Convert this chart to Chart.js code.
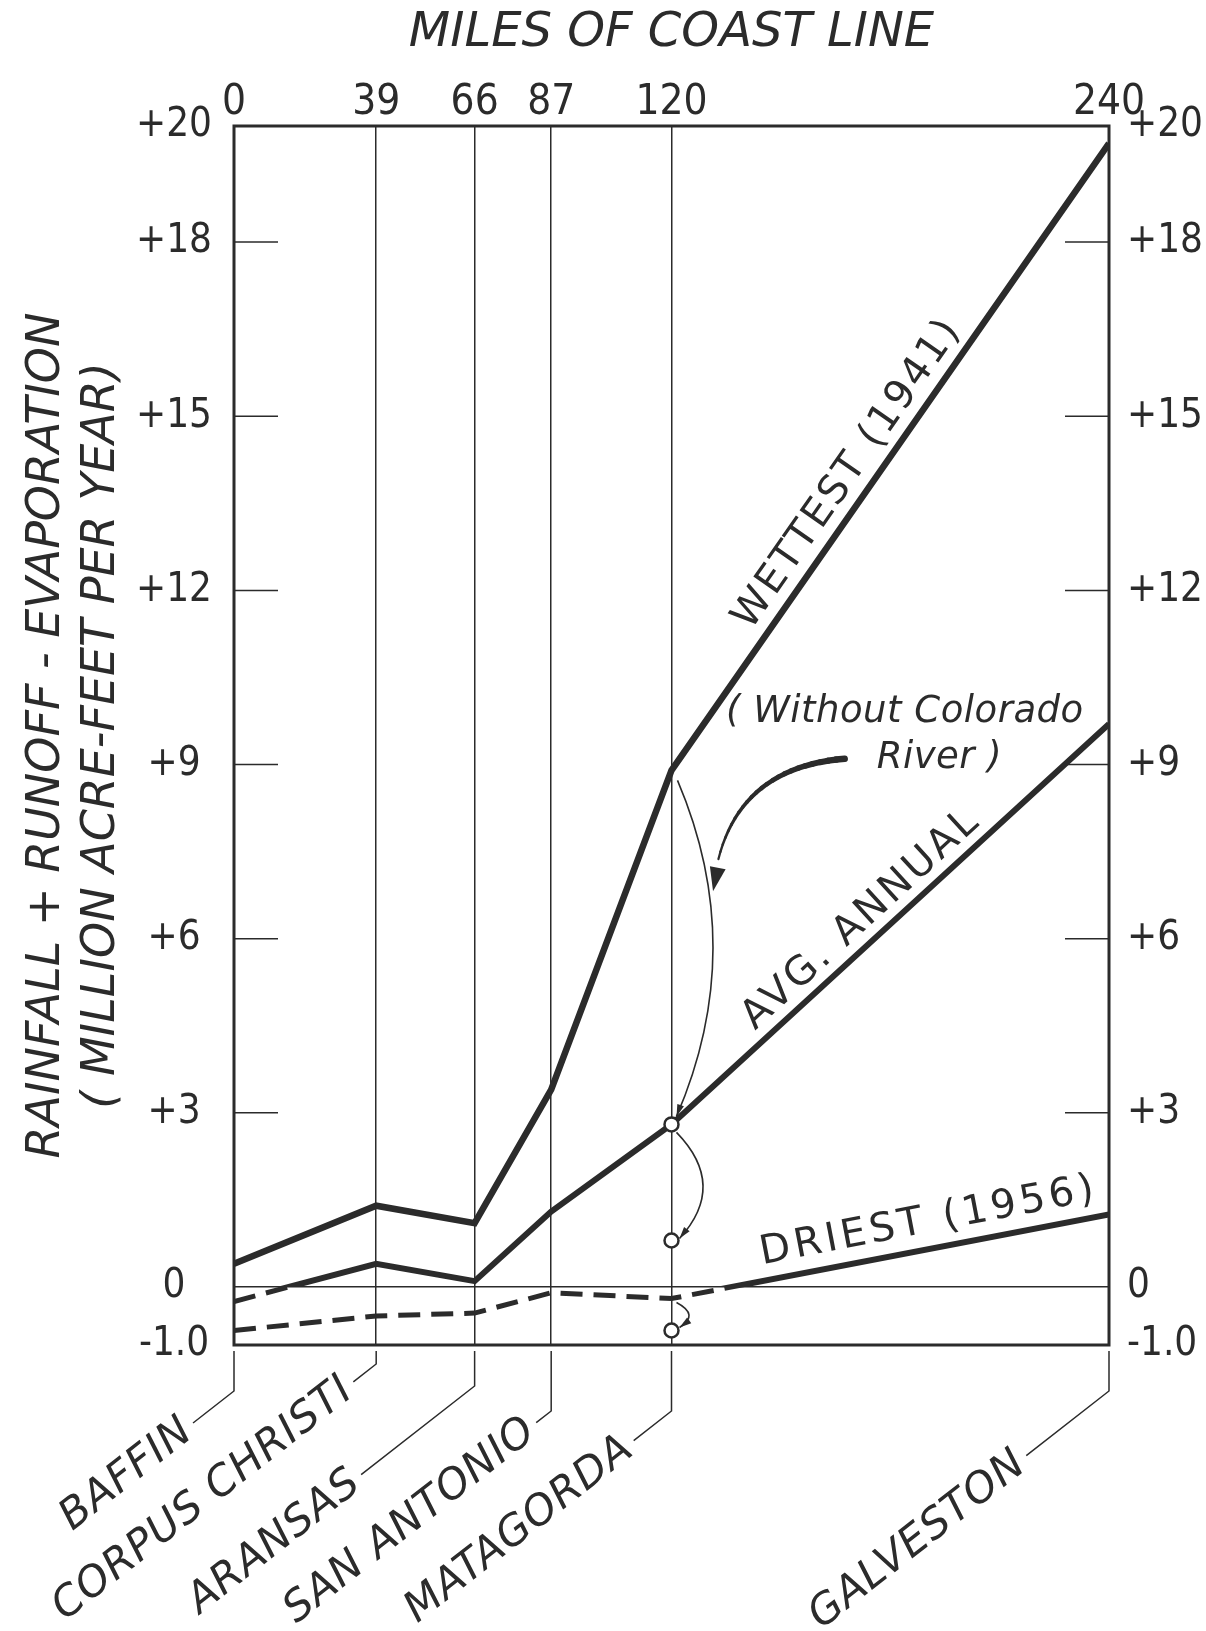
<!DOCTYPE html>
<html>
<head>
<meta charset="utf-8">
<script src="https://cdn.jsdelivr.net/npm/chart.js@4/dist/chart.umd.min.js"></script>
<style>
  body { margin: 0; background: #fff; }
  canvas { display: block; }
</style>
</head>
<body>
<canvas id="chart" width="1206" height="1631"></canvas>
<script>
// miles of coast line, measured from Baffin Bay
const miles = [0, 39, 66, 87, 120, 240];
const stations = ['BAFFIN', 'CORPUS CHRISTI', 'ARANSAS', 'SAN ANTONIO', 'MATAGORDA', 'GALVESTON'];

// rainfall + runoff - evaporation, million acre-feet per year
const wettest = [0.4, 1.4, 1.1, 3.4, 8.9, 19.7];
const avgAnnual = [-0.25, 0.4, 0.1, 1.3, 2.8, 9.7];
const driest = [-0.75, -0.5, -0.45, -0.1, -0.2, 1.25];

// Matagorda values without the Colorado River (wettest, avg, driest)
const noColoradoMile = 120;
const noColorado = [2.8, 0.8, -0.75];

const yTicks = [20, 18, 15, 12, 9, 6, 3, 0, -1];
const yTickLabels = ['+20', '+18', '+15', '+12', '+9', '+6', '+3', '0', '-1.0'];

const INK = '#2b2b2b';
const CLEAR = 'rgba(0,0,0,0)';
const NUM_FONT = "'Liberation Sans Narrow', 'DejaVu Sans Condensed', 'DejaVu Sans', sans-serif";
const TXT_FONT = "'DejaVu Sans', sans-serif";

// leader lines under the plot: length of vertical part, length of slanted part
const leaders = [
  { drop: 40, reach: 52 },
  { drop: 13, reach: 29 },
  { drop: 35, reach: 144 },
  { drop: 60, reach: 19 },
  { drop: 60, reach: 48 },
  { drop: 40, reach: 105 }
];
const LEADER_ANGLE = 38 * Math.PI / 180;

const pts = vals => vals.map((v, i) => ({ x: miles[i], y: v }));

// draw a dataset only above or below the zero line (solid above, dashed below)
const signClip = {
  id: 'signClip',
  beforeDatasetDraw(chart, args) {
    const side = chart.data.datasets[args.index].clipSide;
    if (!side) return;
    const { ctx, chartArea: a } = chart;
    const y0 = chart.scales.y.getPixelForValue(0);
    ctx.save();
    ctx.beginPath();
    if (side === 'above') ctx.rect(a.left - 10, 0, a.width + 20, y0);
    else ctx.rect(a.left - 10, y0, a.width + 20, chart.height - y0);
    ctx.clip();
  },
  afterDatasetDraw(chart, args) {
    if (chart.data.datasets[args.index].clipSide) chart.ctx.restore();
  }
};

function quad(p0, c, p2, t) {
  const u = 1 - t;
  return {
    x: u * u * p0.x + 2 * u * t * c.x + t * t * p2.x,
    y: u * u * p0.y + 2 * u * t * c.y + t * t * p2.y
  };
}

function arrowHead(ctx, tip, from, len, wid) {
  const a = Math.atan2(tip.y - from.y, tip.x - from.x);
  ctx.beginPath();
  ctx.moveTo(tip.x, tip.y);
  ctx.lineTo(tip.x - len * Math.cos(a) + wid / 2 * Math.sin(a), tip.y - len * Math.sin(a) - wid / 2 * Math.cos(a));
  ctx.lineTo(tip.x - len * Math.cos(a) - wid / 2 * Math.sin(a), tip.y - len * Math.sin(a) + wid / 2 * Math.cos(a));
  ctx.closePath();
  ctx.fill();
}

function thinArrow(ctx, p0, p2, bow) {
  const c = { x: (p0.x + p2.x) / 2 + bow, y: (p0.y + p2.y) / 2 };
  ctx.lineWidth = 1.6;
  ctx.beginPath();
  ctx.moveTo(p0.x, p0.y);
  ctx.quadraticCurveTo(c.x, c.y, p2.x, p2.y);
  ctx.stroke();
  arrowHead(ctx, p2, quad(p0, c, p2, 0.85), 12, 7);
  return c;
}

function segLabel(ctx, meta, i, t, off, text) {
  const p0 = meta.data[i], p1 = meta.data[i + 1];
  const ang = Math.atan2(p1.y - p0.y, p1.x - p0.x);
  const x = p0.x + (p1.x - p0.x) * t + Math.sin(ang) * off;
  const y = p0.y + (p1.y - p0.y) * t - Math.cos(ang) * off;
  ctx.save();
  ctx.translate(x, y);
  ctx.rotate(ang);
  ctx.textAlign = 'center';
  ctx.textBaseline = 'middle';
  ctx.fillText(text, 0, 0);
  ctx.restore();
}

const coastNotes = {
  id: 'coastNotes',
  beforeDatasetsDraw(chart) {
    const { ctx, chartArea: a, scales: { y } } = chart;
    ctx.save();
    ctx.strokeStyle = INK;
    ctx.lineWidth = 3;
    ctx.strokeRect(a.left, a.top, a.width, a.height);
    ctx.lineWidth = 1.5;
    yTicks.filter(v => v > -1 && v < 20 && v !== 0).forEach(v => {
      const py = y.getPixelForValue(v);
      ctx.beginPath();
      ctx.moveTo(a.left, py); ctx.lineTo(a.left + 44, py);
      ctx.moveTo(a.right, py); ctx.lineTo(a.right - 44, py);
      ctx.stroke();
    });
    ctx.restore();
  },
  afterDatasetsDraw(chart) {
    const { ctx, chartArea: a, scales: { x, y } } = chart;
    ctx.save();
    ctx.strokeStyle = INK;
    ctx.fillStyle = INK;

    // station leaders and names
    ctx.lineWidth = 1.5;
    ctx.font = 'italic 42px ' + TXT_FONT;
    ctx.letterSpacing = '1px';
    stations.forEach((name, i) => {
      const px = x.getPixelForValue(miles[i]);
      const top = a.bottom + 6;
      const knee = top + leaders[i].drop;
      const ex = px - leaders[i].reach * Math.cos(LEADER_ANGLE);
      const ey = knee + leaders[i].reach * Math.sin(LEADER_ANGLE);
      ctx.beginPath();
      ctx.moveTo(px, top);
      ctx.lineTo(px, knee);
      ctx.lineTo(ex, ey);
      ctx.stroke();
      ctx.save();
      ctx.translate(ex - 6 * Math.cos(LEADER_ANGLE), ey + 6 * Math.sin(LEADER_ANGLE));
      ctx.rotate(-LEADER_ANGLE);
      ctx.textAlign = 'right';
      ctx.textBaseline = 'middle';
      ctx.fillText(name, 0, 0);
      ctx.restore();
    });

    // series names along the lines
    ctx.font = '40px ' + TXT_FONT;
    ctx.letterSpacing = '2.5px';
    segLabel(ctx, chart.getDatasetMeta(1), 4, 0.45, 25, 'WETTEST (1941)');
    ctx.letterSpacing = '3px';
    segLabel(ctx, chart.getDatasetMeta(2), 4, 0.47, 23, 'AVG. ANNUAL');
    ctx.letterSpacing = '4px';
    segLabel(ctx, chart.getDatasetMeta(4), 4, 0.6, 27, 'DRIEST (1956)');

    // "(Without Colorado River)" note
    ctx.letterSpacing = '0.5px';
    ctx.font = 'italic 37px ' + TXT_FONT;
    ctx.textAlign = 'center';
    ctx.textBaseline = 'middle';
    const n1 = { x: x.getPixelForValue(184), y: y.getPixelForValue(9.9) };
    const n2 = { x: x.getPixelForValue(193.5), y: y.getPixelForValue(9.1) };
    ctx.fillText('( Without Colorado', n1.x, n1.y);
    ctx.fillText('River )', n2.x, n2.y);
    const riverLeft = n2.x - ctx.measureText('River )').width / 2;

    // arrows from each Matagorda value to its value without the Colorado
    const mx = x.getPixelForValue(noColoradoMile);
    const at = v => ({ x: mx, y: y.getPixelForValue(v) });
    const w = at(wettest[4]), c0 = at(noColorado[0]);
    const p0 = { x: w.x + 6, y: w.y + 10 };
    const p2 = { x: c0.x + 5, y: c0.y - 8 };
    const ctrl = thinArrow(ctx, p0, p2, 72);

    const c1 = at(noColorado[1]);
    thinArrow(ctx, { x: c0.x + 5, y: c0.y + 8 }, { x: c1.x + 8, y: c1.y - 2 }, 50);
    const d = at(driest[4]), c2 = at(noColorado[2]);
    thinArrow(ctx, { x: d.x + 5, y: d.y + 4 }, { x: c2.x + 8, y: c2.y - 3 }, 22);

    // thick tapered arrow from the note to the first curve
    const tip = quad(p0, ctrl, p2, 0.33);
    tip.x += 4;
    const s = { x: riverLeft - 32, y: n2.y };
    const k = { x: s.x - 120, y: s.y + 10 };
    const N = 24;
    ctx.lineCap = 'round';
    for (let j = 0; j < N; j++) {
      const q0 = quad(s, k, tip, j / N * 0.86);
      const q1 = quad(s, k, tip, (j + 1) / N * 0.86);
      ctx.lineWidth = 6.5 - 4.5 * j / N;
      ctx.beginPath();
      ctx.moveTo(q0.x, q0.y);
      ctx.lineTo(q1.x, q1.y);
      ctx.stroke();
    }
    arrowHead(ctx, tip, quad(s, k, tip, 0.8), 24, 16);
    ctx.restore();
  }
};

const lineStyle = { borderColor: INK, pointRadius: 0, fill: false, tension: 0, order: 1 };

new Chart(document.getElementById('chart'), {
  type: 'line',
  data: {
    datasets: [
      { label: 'Without Colorado River', data: noColorado.map(v => ({ x: noColoradoMile, y: v })),
        showLine: false, pointRadius: 7, pointBorderWidth: 2.5, pointBackgroundColor: '#fff',
        pointBorderColor: INK, order: 0 },
      { label: 'Wettest (1941)', data: pts(wettest), ...lineStyle, borderWidth: 6.5 },
      { label: 'Avg. annual', data: pts(avgAnnual), ...lineStyle, borderWidth: 6, clipSide: 'above' },
      { label: 'Avg. annual (below zero)', data: pts(avgAnnual), ...lineStyle, borderWidth: 5,
        borderDash: [22, 11], clipSide: 'below' },
      { label: 'Driest (1956)', data: pts(driest), ...lineStyle, borderWidth: 6, clipSide: 'above' },
      { label: 'Driest (below zero)', data: pts(driest), ...lineStyle, borderWidth: 5,
        borderDash: [22, 11], clipSide: 'below' }
    ]
  },
  options: {
    responsive: false,
    devicePixelRatio: 1,
    animation: false,
    layout: { padding: { top: 0, left: 0, right: 0, bottom: 286 } },
    plugins: { legend: { display: false }, tooltip: { enabled: false } },
    scales: {
      x: {
        type: 'linear', position: 'top', min: 0, max: 240,
        afterBuildTicks: s => { s.ticks = miles.map(v => ({ value: v })); },
        afterFit: s => { s.height = 126; },
        ticks: { font: { family: NUM_FONT, size: 42, lineHeight: 1 }, color: INK, padding: 2, maxRotation: 0,
                 autoSkip: false, callback: v => String(v) },
        grid: { color: c => (c.tick && (c.tick.value === 0 || c.tick.value === 240)) ? CLEAR : INK,
                lineWidth: 1.5, drawTicks: false },
        border: { display: false },
        title: { display: true, text: 'MILES OF COAST LINE', color: INK,
                 font: { family: TXT_FONT, size: 48, style: 'italic' }, padding: { top: 5, bottom: 0 } }
      },
      y: {
        type: 'linear', position: 'left', min: -1, max: 20,
        afterBuildTicks: s => { s.ticks = yTicks.map(v => ({ value: v })); },
        afterFit: s => { s.width = 234; },
        ticks: { font: { family: NUM_FONT, size: 40 }, color: INK, crossAlign: 'center', padding: 22, autoSkip: false,
                 callback: v => yTickLabels[yTicks.indexOf(v)] },
        grid: { color: c => (c.tick && c.tick.value === 0) ? INK : CLEAR, lineWidth: 1.5, drawTicks: false },
        border: { display: false },
        title: { display: true, color: INK,
                 text: ['RAINFALL + RUNOFF - EVAPORATION', '( MILLION ACRE-FEET PER YEAR)'],
                 font: { family: TXT_FONT, size: 46, style: 'italic' }, padding: { top: 19, bottom: 0 } }
      },
      y2: {
        type: 'linear', position: 'right', min: -1, max: 20,
        afterBuildTicks: s => { s.ticks = yTicks.map(v => ({ value: v })); },
        afterFit: s => { s.width = 97; },
        ticks: { font: { family: NUM_FONT, size: 40 }, color: INK, padding: 18, autoSkip: false,
                 callback: v => yTickLabels[yTicks.indexOf(v)] },
        grid: { display: false, drawTicks: false },
        border: { display: false }
      }
    }
  },
  plugins: [signClip, coastNotes]
});
</script>
</body>
</html>
